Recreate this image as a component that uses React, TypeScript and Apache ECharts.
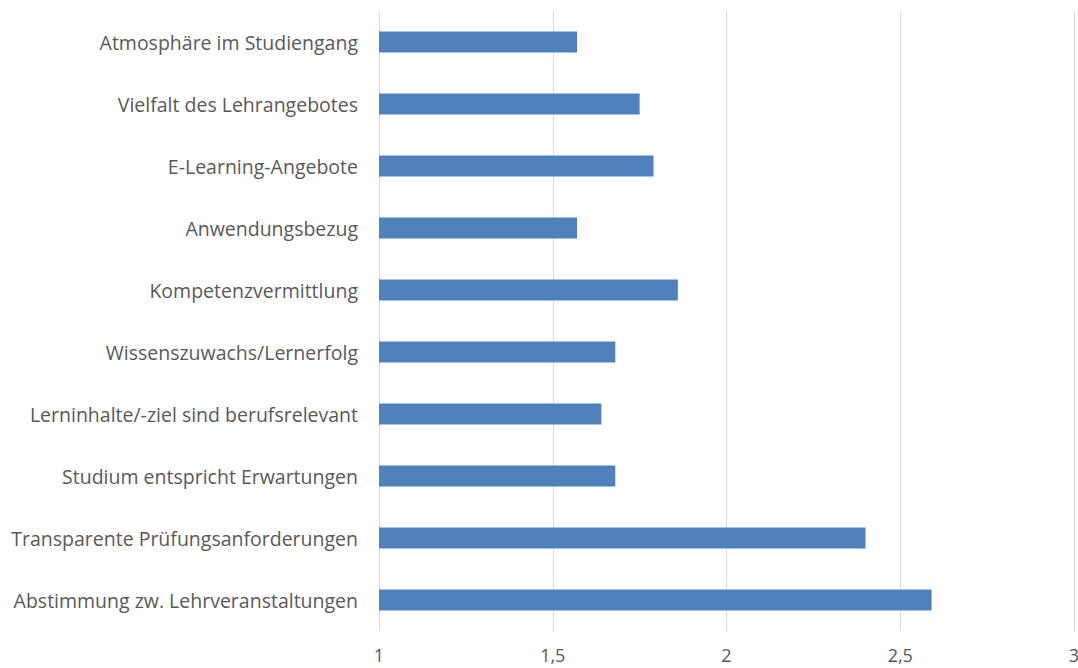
import React, { useEffect, useRef } from "react";
import * as echarts from "echarts";

const categories = [
  "Abstimmung zw. Lehrveranstaltungen",
  "Transparente Prüfungsanforderungen",
  "Studium entspricht Erwartungen",
  "Lerninhalte/-ziel sind berufsrelevant",
  "Wissenszuwachs/Lernerfolg",
  "Kompetenzvermittlung",
  "Anwendungsbezug",
  "E-Learning-Angebote",
  "Vielfalt des Lehrangebotes",
  "Atmosphäre im Studiengang",
];
const values = [2.59, 2.4, 1.68, 1.64, 1.68, 1.86, 1.57, 1.79, 1.75, 1.57];
const xTicks = [1, 1.5, 2, 2.5, 3];

export default function App() {
  const ref = useRef<HTMLDivElement>(null);
  useEffect(() => {
    const chart = echarts.init(ref.current!, null, { renderer: "svg" });
    chart.setOption({
      animation: false,
      backgroundColor: "#ffffff",
      grid: {
        left: 379,
        right: 4,
        top: 11,
        bottom: 37,
        containLabel: false,
        outerBoundsMode: "none",
      },
      xAxis: {
        type: "value",
        min: xTicks[0],
        max: xTicks[xTicks.length - 1],
        interval: 0.5,
        axisLine: { show: false },
        axisTick: { show: false },
        splitLine: { lineStyle: { color: "#d9d9d9", width: 1 } },
        axisLabel: {
          color: "#595959",
          fontFamily: "Open Sans",
          fontSize: 18,
          margin: 15,
          hideOverlap: false,
          formatter: (v: number) => String(v).replace(".", ","),
        },
      },
      yAxis: {
        type: "category",
        data: categories,
        axisLine: { show: false },
        axisTick: { show: false },
        axisLabel: {
          color: "#595959",
          fontFamily: "Open Sans",
          fontSize: 19.5,
          margin: 21,
        },
      },
      series: [
        {
          type: "bar",
          data: values,
          barWidth: 21,
          itemStyle: { color: "#4f81bd" },
        },
      ],
    });
    return () => chart.dispose();
  }, []);
  return (
    <div
      ref={ref}
      style={{ position: "fixed", left: 0, top: 0, width: 1078, height: 668 }}
    />
  );
}
